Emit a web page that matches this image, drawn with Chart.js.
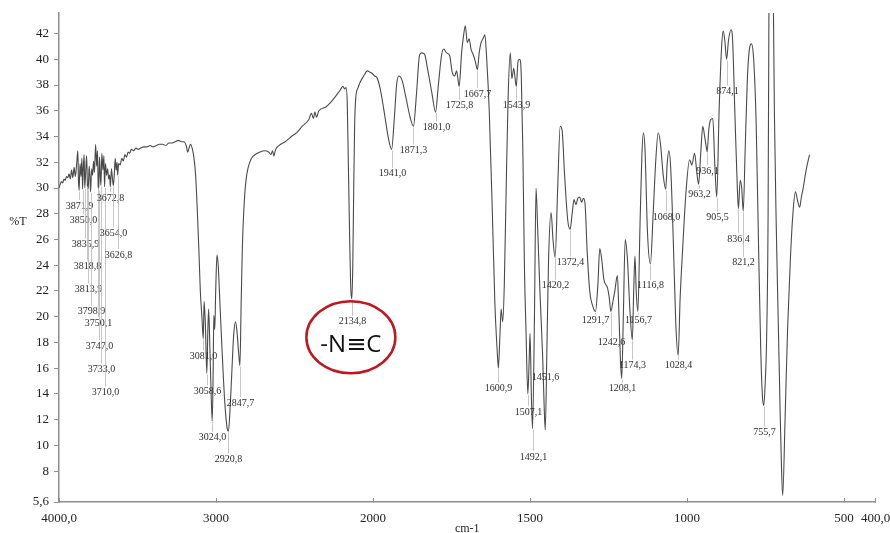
<!DOCTYPE html>
<html>
<head>
<meta charset="utf-8">
<title>IR spectrum</title>
<script src="https://cdn.jsdelivr.net/npm/chart.js@4.4.1/dist/chart.umd.min.js"></script>
<style>
  html, body { margin: 0; padding: 0; background: #fff; }
</style>
</head>
<body>
<canvas id="ir" width="890" height="533"></canvas>
<script>
// spectrum: wavenumber (cm-1) and %T
const wavenumbers = [
  4000, 3992, 3984, 3976, 3968, 3960, 3952, 3944, 3936, 3928,
  3920, 3912, 3904, 3896, 3888, 3880, 3876, 3871.9, 3866, 3860,
  3854, 3850, 3845, 3840, 3835.9, 3830, 3824, 3818.8, 3813.9, 3808,
  3803, 3798.9, 3792, 3786, 3780, 3774, 3767, 3760, 3755, 3750.1,
  3747, 3742, 3737, 3733, 3727, 3720, 3714, 3710, 3704, 3697,
  3690, 3684, 3678, 3672.8, 3666, 3660, 3654, 3648, 3642, 3636,
  3630, 3626.8, 3620, 3610, 3600, 3590, 3580, 3570, 3560, 3550,
  3540, 3525, 3510, 3495, 3480, 3460, 3440, 3420, 3400, 3380,
  3360, 3340, 3320, 3300, 3280, 3260, 3240, 3220, 3205, 3190,
  3180, 3172, 3162, 3150, 3140, 3130, 3120, 3110, 3100, 3090,
  3081, 3076, 3068, 3058.6, 3052, 3047, 3040, 3030, 3024, 3018,
  3014, 3008, 3002, 2994, 2986, 2975, 2960, 2945, 2930, 2920.8,
  2912, 2900, 2888, 2876, 2866, 2856, 2847.7, 2840, 2832, 2822,
  2810, 2795, 2775, 2750, 2720, 2690, 2665, 2650, 2640, 2632,
  2620, 2600, 2560, 2520, 2486, 2450, 2410, 2392, 2380, 2370,
  2360, 2345, 2300, 2274, 2240, 2210, 2192, 2180, 2172, 2164,
  2156, 2148, 2141, 2134.8, 2129, 2123, 2117, 2110, 2095, 2083,
  2060, 2035, 2020, 2005, 1995, 1988, 1978, 1965, 1952, 1941,
  1932, 1925, 1918, 1908, 1895, 1882, 1871.3, 1862, 1852, 1845,
  1836, 1826, 1812, 1801, 1792, 1782, 1775, 1766, 1756, 1748,
  1740, 1734, 1725.8, 1718, 1712, 1706, 1700, 1694, 1688, 1680,
  1674, 1667.7, 1662, 1656, 1650, 1644, 1638, 1630, 1620, 1612,
  1605, 1600.9, 1596, 1592, 1587, 1582, 1576, 1570, 1563, 1558,
  1552, 1543.9, 1538, 1533, 1528, 1523, 1518, 1513, 1507.1, 1503,
  1500, 1496, 1492.1, 1486, 1481, 1476, 1468, 1460, 1455, 1451.6,
  1446, 1441, 1433, 1427, 1420.2, 1412, 1404, 1398, 1390, 1380,
  1372.4, 1366, 1360, 1354, 1348, 1342, 1336, 1330, 1325, 1318,
  1310, 1300, 1291.7, 1284, 1278, 1272, 1265, 1253, 1248, 1242.6,
  1236, 1230, 1222, 1218, 1212, 1208.1, 1203, 1197, 1190, 1182,
  1174.3, 1170, 1166, 1162, 1156.7, 1150, 1144, 1139, 1134, 1126,
  1116.8, 1108, 1100, 1092, 1085, 1076, 1068, 1063, 1058, 1052,
  1044, 1036, 1028.4, 1022, 1014, 1004, 992, 985, 976, 969,
  963.2, 957, 950, 944, 939, 936.1, 931, 925, 918, 912,
  905.5, 898, 890, 885, 880, 874.1, 868, 860, 855, 848,
  840, 836.4, 831, 826, 821.2, 815, 808, 800, 795, 788,
  780, 772, 765, 760, 755.7, 751, 747, 742, 738, 733,
  728, 722, 716, 710, 704, 699, 695.5, 688, 680, 671,
  663, 655, 648, 641.5, 636, 631, 620, 610
];
const transmittance = [
  30.0, 30.3, 30.5, 30.4, 30.7, 30.6, 30.9, 30.8, 31.1, 30.7,
  31.4, 30.8, 31.6, 30.9, 31.8, 32.9, 30.6, 29.8, 31.9, 30.9,
  32.3, 29.9, 31.6, 32.6, 30.0, 31.3, 32.5, 30.2, 29.9, 31.7,
  30.9, 29.7, 31.5, 31.0, 32.1, 31.2, 33.4, 31.7, 32.9, 30.1,
  29.9, 32.4, 31.0, 30.2, 32.7, 31.4, 32.5, 30.1, 31.9, 31.0,
  31.5, 30.7, 31.0, 30.1, 31.5, 30.8, 30.2, 31.0, 32.3, 31.4,
  32.0, 31.0, 31.9, 31.8, 32.3, 32.1, 32.6, 32.4, 32.8, 32.7,
  33.0, 32.9, 33.1, 33.0, 33.1, 33.2, 33.2, 33.3, 33.2, 33.3,
  33.4, 33.4, 33.3, 33.5, 33.5, 33.6, 33.7, 33.6, 33.6, 33.3,
  32.8, 33.1, 33.4, 33.0, 32.3, 31.0, 28.5, 25.5, 22.0, 20.0,
  18.3, 21.2, 19.5, 15.6, 19.0, 20.6, 18.0, 13.5, 11.9, 16.0,
  20.1, 19.0, 22.0, 24.8, 24.0, 21.0, 17.0, 13.5, 11.4, 11.1,
  12.5, 15.5, 18.5, 19.6, 18.8, 17.2, 16.2, 21.0, 25.5, 28.5,
  30.5, 31.6, 32.3, 32.6, 32.8, 32.9, 32.8, 32.6, 32.9, 32.5,
  33.0, 33.3, 33.6, 34.0, 34.3, 34.8, 35.3, 35.8, 35.4, 35.9,
  35.5, 36.0, 36.3, 36.6, 37.1, 37.6, 37.9, 37.7, 37.8, 36.5,
  31.0, 25.5, 22.0, 21.4, 24.0, 30.0, 35.0, 37.0, 37.8, 38.2,
  38.7, 39.1, 39.0, 38.9, 38.7, 38.6, 37.8, 36.0, 34.0, 33.0,
  35.5, 38.0, 38.7, 38.4, 37.0, 35.5, 34.8, 37.2, 40.3, 40.5,
  40.4, 39.2, 37.3, 35.9, 38.0, 40.3, 40.8, 40.5, 40.3, 39.0,
  38.7, 39.1, 37.9, 40.5, 41.8, 42.6, 41.3, 41.6, 40.8, 40.3,
  39.8, 39.2, 40.5, 41.3, 41.6, 41.9, 40.0, 36.0, 28.0, 21.0,
  17.5, 16.0, 18.5, 20.6, 19.6, 22.5, 30.0, 36.9, 40.5, 38.5,
  39.3, 37.9, 39.9, 40.0, 38.8, 33.0, 24.0, 19.0, 14.0, 16.5,
  18.7, 14.0, 11.3, 20.0, 30.0, 27.0, 21.6, 17.0, 13.0, 11.2,
  18.0, 24.5, 28.1, 26.0, 24.6, 30.0, 34.8, 34.5, 31.0, 27.5,
  26.8, 28.0, 29.1, 28.7, 29.2, 29.3, 28.9, 29.2, 28.8, 25.0,
  22.0, 20.8, 20.4, 22.5, 25.3, 24.5, 22.9, 22.2, 21.5, 20.4,
  21.2, 22.0, 23.2, 21.0, 16.5, 15.2, 20.0, 26.0, 24.5, 20.5,
  18.2, 22.0, 24.7, 22.0, 20.4, 27.0, 32.5, 34.3, 33.0, 26.5,
  24.1, 28.0, 32.0, 34.3, 33.5, 31.0, 29.9, 32.0, 32.9, 31.5,
  26.0, 19.5, 17.0, 21.5, 25.3, 29.5, 32.2, 31.8, 32.7, 31.2,
  30.3, 32.5, 34.8, 34.0, 33.2, 32.8, 34.5, 35.3, 35.4, 32.0,
  29.3, 36.0, 41.0, 42.2, 41.5, 40.0, 41.5, 42.3, 41.5, 36.0,
  30.0, 28.4, 30.6, 30.0, 28.2, 33.0, 38.5, 41.0, 41.2, 40.0,
  35.0, 25.0, 17.0, 13.8, 13.1, 15.0, 18.0, 28.0, 52.0, 62.0,
  52.0, 36.0, 27.0, 20.0, 13.0, 8.0, 6.1, 12.0, 19.0, 24.5,
  28.0, 29.7, 29.0, 28.5, 29.3, 29.9, 31.5, 32.6
];

// labelled bands and the %T level where each label is printed
const peakWavenumbers = [
  3871.9, 3850.0, 3835.9, 3818.8, 3813.9, 3798.9, 3750.1, 3747.0, 3733.0, 3710.0,
  3672.8, 3654.0, 3626.8, 3081.0, 3058.6, 3024.0, 2920.8, 2847.7, 2134.8, 1941.0,
  1871.3, 1801.0, 1725.8, 1667.7, 1600.9, 1543.9, 1507.1, 1492.1, 1451.6, 1420.2,
  1372.4, 1291.7, 1242.6, 1208.1, 1174.3, 1156.7, 1116.8, 1068.0, 1028.4, 963.2,
  936.1, 905.5, 874.1, 836.4, 821.2, 755.7
];
const peakLabelLevels = [
  28.6, 27.5, 25.6, 23.9, 22.1, 20.4, 19.5, 17.7, 15.9, 14.1,
  29.2, 26.5, 24.8, 16.9, 14.2, 10.6, 8.9, 13.3, 19.6, 31.1,
  32.9, 34.7, 36.4, 37.3, 14.4, 36.4, 12.6, 9.1, 15.3, 22.4,
  24.2, 19.7, 18.0, 14.4, 16.2, 19.7, 22.4, 27.7, 16.2, 29.5,
  31.3, 27.7, 37.5, 26.0, 24.2, 11.0
];

const xTickValues = [4000, 3000, 2000, 1500, 1000, 500, 400];
const xTickLabels = ['4000,0', '3000', '2000', '1500', '1000', '500', '400,0'];
const yTickValues = [5.6, 8, 10, 12, 14, 16, 18, 20, 22, 24, 26, 28, 30, 32, 34, 36, 38, 40, 42];

// the instrument prints 4000-2000 at half the scale of 2000-400
function toAxis(wn) {
  return wn >= 2000 ? (4000 - wn) / 2 : 3000 - wn;
}

const serif = '"Liberation Serif", "Times New Roman", serif';
const axisGrey = '#8e8e8e';

const points = wavenumbers.map((wn, i) => ({ x: toAxis(wn), y: transmittance[i] }));

const peakMarks = {
  id: 'peakMarks',
  afterDatasetsDraw(chart) {
    const { ctx, chartArea, scales: { x, y } } = chart;
    ctx.save();
    ctx.font = '10px ' + serif;
    ctx.textAlign = 'center';
    ctx.textBaseline = 'middle';
    peakWavenumbers.forEach((wn, i) => {
      const px = Math.round(x.getPixelForValue(toAxis(wn))) + 0.5;
      const curveY = y.getPixelForValue(transmittance[wavenumbers.indexOf(wn)]);
      const labelY = y.getPixelForValue(peakLabelLevels[i]);
      if (labelY - 6 > curveY + 1) {
        ctx.strokeStyle = '#b8b8b8';
        ctx.lineWidth = 0.8;
        ctx.beginPath();
        ctx.moveTo(px, curveY + 1);
        ctx.lineTo(px, labelY - 6);
        ctx.stroke();
      }
      ctx.fillStyle = '#2e2e2e';
      ctx.fillText(wn.toFixed(1).replace('.', ','), px, labelY);
    });

    // isocyanide band callout
    const cx = x.getPixelForValue(toAxis(2134.8)) - 1;
    const cy = y.getPixelForValue(18.4);
    ctx.strokeStyle = '#c0161c';
    ctx.lineWidth = 2.5;
    ctx.beginPath();
    ctx.ellipse(cx, cy, 44.5, 36, 0, 0, Math.PI * 2);
    ctx.stroke();
    ctx.fillStyle = '#111';
    ctx.font = '24px "Open Sans", "DejaVu Sans", sans-serif';
    ctx.fillText('-N\u2261C', cx, y.getPixelForValue(17.8));

    // %T axis name sits horizontally left of the ticks
    ctx.font = '12px ' + serif;
    ctx.fillStyle = '#222';
    ctx.fillText('%T', chartArea.left - 41, y.getPixelForValue(27.4));
    ctx.restore();
  }
};

new Chart(document.getElementById('ir'), {
  type: 'line',
  data: {
    datasets: [{
      data: points,
      borderColor: '#4a4a4a',
      borderWidth: 1.1,
      pointRadius: 0,
      cubicInterpolationMode: 'monotone',
      fill: false
    }]
  },
  options: {
    responsive: false,
    animation: false,
    events: [],
    layout: { autoPadding: false, padding: { top: 13, right: 14.5, bottom: 0, left: 0 } },
    plugins: { legend: { display: false }, tooltip: { enabled: false } },
    scales: {
      x: {
        type: 'linear',
        min: 0,
        max: toAxis(400),
        afterBuildTicks: (s) => { s.ticks = xTickValues.map(v => ({ value: toAxis(v) })); },
        afterFit: (s) => {
          s.height = 31;
          s.paddingLeft = 0;
          s.paddingRight = 0;
        },
        ticks: {
          autoSkip: false,
          maxRotation: 0,
          padding: 13,
          color: '#222',
          font: { family: serif, size: 13 },
          callback: (v, i) => xTickLabels[i]
        },
        grid: { drawOnChartArea: false, tickLength: -4, color: axisGrey },
        border: { color: axisGrey, width: 1.5 },
        title: {
          display: true,
          text: 'cm-1',
          color: '#222',
          font: { family: serif, size: 12 },
          padding: { top: 0, bottom: -3 }
        }
      },
      y: {
        type: 'linear',
        min: 5.6,
        max: 43.6,
        afterBuildTicks: (s) => { s.ticks = yTickValues.map(v => ({ value: v })); },
        afterFit: (s) => { s.width = 59; },
        ticks: {
          autoSkip: false,
          padding: 5,
          color: '#222',
          font: { family: serif, size: 13 },
          callback: (v) => String(v).replace('.', ',')
        },
        grid: { drawOnChartArea: false, tickLength: 5, color: axisGrey },
        border: { color: axisGrey, width: 1.5 }
      }
    }
  },
  plugins: [peakMarks]
});
</script>
</body>
</html>
